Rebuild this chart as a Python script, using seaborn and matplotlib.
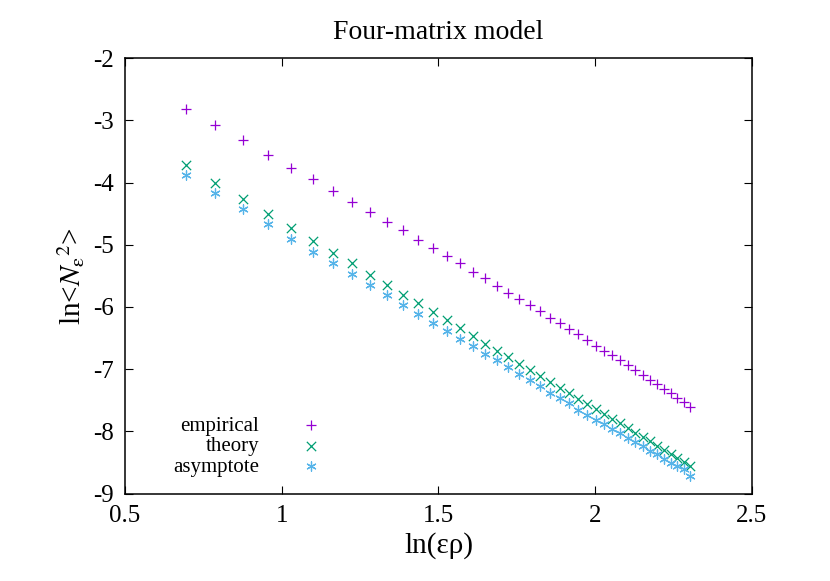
import numpy as np
import pandas as pd
import matplotlib
matplotlib.use("Agg")
import matplotlib.pyplot as plt
import seaborn as sns

# ── data ─────────────────────────────────────────────────────────────────────
eps_rho = [2.0, 2.2, 2.4, 2.6, 2.8, 3.0, 3.2, 3.4, 3.6, 3.8, 4.0, 4.2, 4.4, 4.6,
           4.8, 5.0, 5.2, 5.4, 5.6, 5.8, 6.0, 6.2, 6.4, 6.6, 6.8, 7.0, 7.2, 7.4,
           7.6, 7.8, 8.0, 8.2, 8.4, 8.6, 8.8, 9.0, 9.2, 9.4, 9.6, 9.8, 10.0]
empirical = [-2.82, -3.08, -3.32, -3.55, -3.76, -3.95, -4.14, -4.31, -4.47, -4.63,
             -4.77, -4.92, -5.05, -5.18, -5.30, -5.43, -5.54, -5.66, -5.77, -5.87,
             -5.97, -6.07, -6.17, -6.26, -6.35, -6.44, -6.53, -6.62, -6.70, -6.78,
             -6.86, -6.94, -7.02, -7.09, -7.17, -7.24, -7.32, -7.39, -7.46, -7.53, -7.60]
theory = [-3.72, -4.01, -4.26, -4.51, -4.73, -4.94, -5.13, -5.30, -5.48, -5.64,
          -5.80, -5.94, -6.08, -6.21, -6.34, -6.46, -6.59, -6.70, -6.81, -6.91,
          -7.01, -7.11, -7.20, -7.30, -7.39, -7.48, -7.56, -7.64, -7.72, -7.80,
          -7.87, -7.95, -8.02, -8.09, -8.16, -8.23, -8.30, -8.37, -8.43, -8.49, -8.55]
asymptote = [-3.88, -4.17, -4.43, -4.67, -4.90, -5.11, -5.29, -5.47, -5.65, -5.81,
             -5.97, -6.11, -6.25, -6.38, -6.51, -6.63, -6.75, -6.86, -6.96, -7.08,
             -7.18, -7.27, -7.38, -7.47, -7.55, -7.65, -7.73, -7.81, -7.88, -7.96,
             -8.03, -8.10, -8.17, -8.24, -8.31, -8.37, -8.44, -8.50, -8.55, -8.61, -8.71]

x = np.log(eps_rho)
df = pd.DataFrame({"x": np.tile(x, 3),
                   "y": empirical + theory + asymptote,
                   "series": ["empirical"] * 41 + ["theory"] * 41 + ["asymptote"] * 41})

# ── style ────────────────────────────────────────────────────────────────────
sns.set_style("ticks")
plt.rcParams["font.family"] = ["Liberation Serif", "DejaVu Serif"]
plt.rcParams["mathtext.fontset"] = "stix"
plt.rcParams["axes.unicode_minus"] = False
for k in ["text.color", "axes.labelcolor", "xtick.color", "ytick.color", "axes.edgecolor"]:
    plt.rcParams[k] = "black"

fig = plt.figure(figsize=(8.3, 5.81), dpi=100)
ax = fig.add_axes([0.1506, 0.1504, 0.7554, 0.7496])

colors = {"empirical": "#9400d3", "theory": "#009e73", "asymptote": "#56b4e9"}
markers = {"empirical": "+", "theory": "x", "asymptote": (6, 2, 0)}
for name in ["empirical", "theory", "asymptote"]:
    sub = df[df["series"] == name]
    sns.scatterplot(data=sub, x="x", y="y", ax=ax, color=colors[name],
                    marker=markers[name], s=45, linewidth=0.9, label=name)

ax.set_xlim(0.5, 2.5)
ax.set_ylim(-9, -2)
ax.set_xticks([0.5, 1, 1.5, 2, 2.5])
ax.set_xticklabels(["0.5", "1", "1.5", "2", "2.5"])
ax.set_yticks(range(-9, -1))
ax.tick_params(direction="in", top=True, right=True, labelsize=18, length=6, pad=8)
for sp in ax.spines.values():
    sp.set_linewidth(1.1)

ax.set_title("Four-matrix model", fontsize=20, pad=14)
ax.set_xlabel("ln(ερ)", fontsize=21)
ax.set_ylabel(r"ln<$N_{\mathrm{ε}}{}^2$>", fontsize=21)

ax.legend(loc="lower left", markerfirst=False, frameon=False, fontsize=15,
          handletextpad=1.5, borderaxespad=0.4, labelspacing=0.05,
          bbox_to_anchor=(0.05, 0.0))
for t in ax.get_legend().get_texts():
    t.set_ha("right")
ax.get_legend()._legend_box.align = "right"

fig.savefig("out.png", dpi=100)
